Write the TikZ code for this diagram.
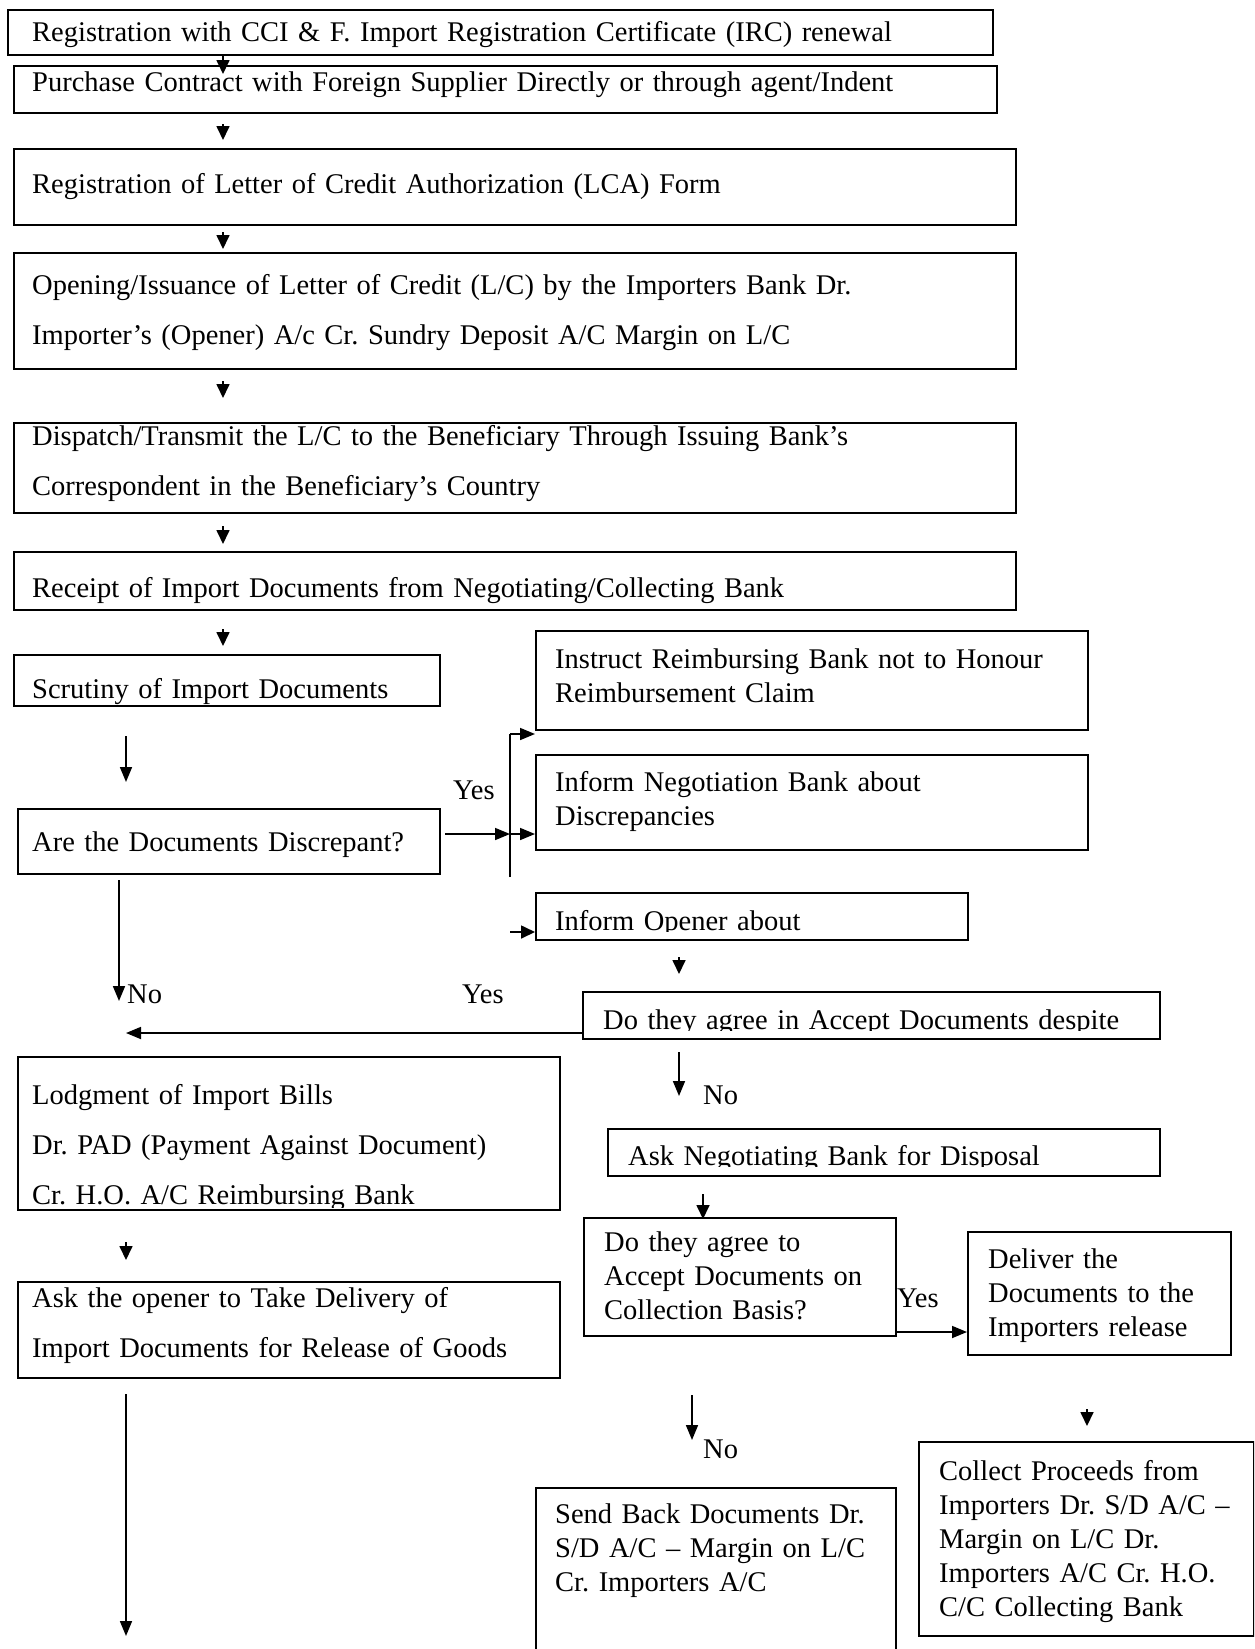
\documentclass[tikz,border=0pt]{standalone}
\usepackage{fontspec}
\setmainfont{Liberation Serif}
\usetikzlibrary{arrows.meta}
\begin{document}
\frenchspacing
\begin{tikzpicture}[x=1pt,y=-1pt,
  box/.style={draw, line width=1.7pt, inner sep=0pt, anchor=north west},
  txt/.style={anchor=base west, inner sep=0pt, font=\fontsize{28.5}{34}\selectfont\frenchspacing, align=left, text width=1100pt},
  wtxt/.style={txt, font=\fontsize{28.5}{50}\selectfont\frenchspacing},
  lbl/.style={anchor=base west, inner sep=0pt, font=\fontsize{28.5}{34}\selectfont},
  arr/.style={line width=1.7pt, -{Triangle[length=15pt,width=12pt]}},
  sarr/.style={line width=1.7pt, -{Triangle[length=14pt,width=13pt]}},
]
\clip (0,0) rectangle (1254,1649);
\fill[white] (0,0) rectangle (1254,1649);
% boxes
\node[box, minimum width=985pt, minimum height=45pt] (b1) at (7,9) {};
\node[box, minimum width=983pt, minimum height=47pt] (b2) at (13,65) {};
\node[box, minimum width=1002pt, minimum height=76pt] (b3) at (13,148) {};
\node[box, minimum width=1002pt, minimum height=116pt] (b4) at (13,252) {};
\node[box, minimum width=1002pt, minimum height=90pt] (b5) at (13,422) {};
\node[box, minimum width=1002pt, minimum height=58pt] (b6) at (13,551) {};
\node[box, minimum width=426pt, minimum height=51pt] (b7) at (13,654) {};
\node[box, minimum width=422pt, minimum height=65pt] (b8) at (17,808) {};
\node[box, minimum width=552pt, minimum height=99pt] (b9) at (535,630) {};
\node[box, minimum width=552pt, minimum height=95pt] (b10) at (535,754) {};
\node[box, minimum width=432pt, minimum height=47pt] (b11) at (535,892) {};
\node[box, minimum width=577pt, minimum height=47pt] (b12) at (582,991) {};
\node[box, minimum width=542pt, minimum height=153pt] (b13) at (17,1056) {};
\node[box, minimum width=542pt, minimum height=96pt] (b14) at (17,1281) {};
\node[box, minimum width=552pt, minimum height=47pt] (b15) at (607,1128) {};
\node[box, minimum width=312pt, minimum height=118pt] (b16) at (583,1217) {};
\node[box, minimum width=263pt, minimum height=123pt] (b17) at (967,1231) {};
\node[box, minimum width=335pt, minimum height=194pt] (b18) at (918,1441) {};
\node[box, minimum width=360pt, minimum height=180pt] (b19) at (535,1487) {};
% texts
\node[txt] (t1) at (32,41) {Registration with CCI \& F. Import Registration Certificate (IRC) renewal};
\node[txt] (t2) at (32,91) {Purchase Contract with Foreign Supplier Directly or through agent/Indent};
\node[txt] (t3) at (32,193) {Registration of Letter of Credit Authorization (LCA) Form};
\node[wtxt] (t4) at (32,294) {Opening/Issuance of Letter of Credit (L/C) by the Importers Bank Dr.\\Importer’s (Opener) A/c Cr. Sundry Deposit A/C Margin on L/C};
\node[wtxt] (t5) at (32,445) {Dispatch/Transmit the L/C to the Beneficiary Through Issuing Bank’s\\Correspondent in the Beneficiary’s Country};
\node[txt] (t6) at (32,597) {Receipt of Import Documents from Negotiating/Collecting Bank};
\node[txt] (t7) at (32,698) {Scrutiny of Import Documents};
\node[txt] (t8) at (32,851) {Are the Documents Discrepant?};
\node[txt] (t9) at (555,668) {Instruct Reimbursing Bank not to Honour\\Reimbursement Claim};
\node[txt] (t10) at (555,791) {Inform Negotiation Bank about\\Discrepancies};
\begin{scope}
\clip (535,892) rectangle (967,931);
\node[txt] (t11) at (555,930) {Inform Opener about};
\end{scope}
\begin{scope}
\clip (582,991) rectangle (1159,1030);
\node[txt] (t12) at (603,1029) {Do they agree in Accept Documents despite};
\end{scope}
\begin{scope}
\clip (17,1056) rectangle (559,1207);
\node[wtxt] (t13) at (32,1104) {Lodgment of Import Bills\\Dr. PAD (Payment Against Document)\\Cr. H.O. A/C Reimbursing Bank};
\end{scope}
\node[wtxt] (t14) at (32,1307) {Ask the opener to Take Delivery of\\Import Documents for Release of Goods};
\begin{scope}
\clip (607,1128) rectangle (1159,1166);
\node[txt] (t15) at (628,1165) {Ask Negotiating Bank for Disposal};
\end{scope}
\node[txt] (t16) at (604,1251) {Do they agree to\\Accept Documents on\\Collection Basis?};
\node[txt] (t17) at (988,1268) {Deliver the\\Documents to the\\Importers release};
\node[txt] (t18) at (939,1480) {Collect Proceeds from\\Importers Dr. S/D A/C –\\Margin on L/C Dr.\\Importers A/C Cr. H.O.\\C/C Collecting Bank};
\node[txt] (t19) at (555,1523) {Send Back Documents Dr.\\S/D A/C – Margin on L/C\\Cr. Importers A/C};
% labels
\node[lbl] (y1) at (453,799) {Yes};
\node[lbl] (n1) at (127,1003) {No};
\node[lbl] (y2) at (462,1003) {Yes};
\node[lbl] (n2) at (703,1104) {No};
\node[lbl] (y3) at (897,1307) {Yes};
\node[lbl] (n3) at (703,1458) {No};
% coordinates
\coordinate (a1e) at (223,74);
\coordinate (a2s) at (223,124); \coordinate (a2e) at (223,140);
\coordinate (a3s) at (223,232); \coordinate (a3e) at (223,249);
\coordinate (a4s) at (223,381); \coordinate (a4e) at (223,398);
\coordinate (a5s) at (223,526); \coordinate (a5e) at (223,544);
\coordinate (a6s) at (223,629); \coordinate (a6e) at (223,646);
\coordinate (a7s) at (126,736); \coordinate (a7e) at (126,782);
\coordinate (ys) at (445,834);
\coordinate (br) at (510,834);
\coordinate (brt) at (510,734);
\coordinate (brb) at (510,877);
\coordinate (a9s) at (510,932);
\coordinate (a10s) at (679,957); \coordinate (a10e) at (679,974);
\coordinate (a11s) at (582,1033); \coordinate (a11e) at (126,1033);
\coordinate (a12s) at (119,880); \coordinate (a12e) at (119,1001);
\coordinate (a13s) at (679,1052); \coordinate (a13e) at (679,1096);
\coordinate (a14s) at (703,1194); \coordinate (a14e) at (703,1219);
\coordinate (a15s) at (895,1332);
\coordinate (a16s) at (1087,1409); \coordinate (a16e) at (1087,1426);
\coordinate (a17s) at (692,1395); \coordinate (a17e) at (692,1440);
\coordinate (a18s) at (126,1242); \coordinate (a18e) at (126,1260);
\coordinate (a19s) at (126,1394); \coordinate (a19e) at (126,1636);
% arrows
\draw[sarr] (b1.south west -| a1e) -- (a1e);
\draw[sarr] (a2s) -- (a2e);
\draw[sarr] (a3s) -- (a3e);
\draw[sarr] (a4s) -- (a4e);
\draw[sarr] (a5s) -- (a5e);
\draw[sarr] (a6s) -- (a6e);
\draw[arr] (a7s) -- (a7e);
\draw[arr] (ys) -- (br);
\draw[arr] (br) -- (br -| b10.west);
\draw[line width=1.7pt] (brb) -- (brt);
\draw[arr] (brt) -- (brt -| b9.west);
\draw[sarr] (a9s) -- (a9s -| b11.west);
\draw[sarr] (a10s) -- (a10e);
\draw[arr] (a11s) -- (a11e);
\draw[arr] (a12s) -- (a12e);
\draw[arr] (a13s) -- (a13e);
\draw[sarr] (a14s) -- (a14e);
\draw[arr] (a15s) -- (a15s -| b17.west);
\draw[sarr] (a16s) -- (a16e);
\draw[arr] (a17s) -- (a17e);
\draw[sarr] (a18s) -- (a18e);
\draw[arr] (a19s) -- (a19e);
\end{tikzpicture}
\end{document}
